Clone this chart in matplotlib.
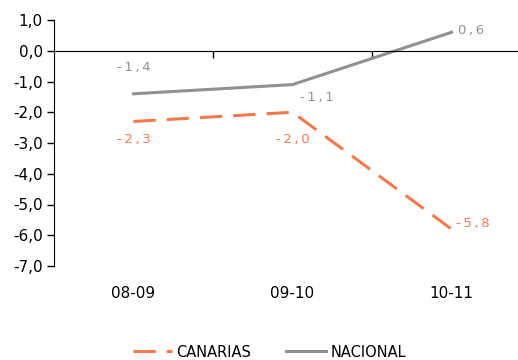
import matplotlib.pyplot as plt
from matplotlib.ticker import FuncFormatter

# data
periodos = ['08-09', '09-10', '10-11']
canarias = [-2.3, -2.0, -5.8]
nacional = [-1.4, -1.1, 0.6]

col_can = '#F4794C'
col_nac = '#8E9093'

plt.rcParams['font.family'] = ['DejaVu Sans']

fig = plt.figure(figsize=(5.18, 3.6), dpi=100)
ax = fig.add_axes([54/518, 94/360, 477/518, 246/360])

x = list(range(len(periodos)))
ax.plot(x, canarias, color=col_can, lw=2.2, dashes=(7.3, 3.6), label='CANARIAS')
ax.plot(x, nacional, color=col_nac, lw=2.2, label='NACIONAL')

ax.set_xlim(-0.5, 2.5)
ax.set_ylim(-7, 1)
ax.set_yticks(range(-7, 2))
ax.yaxis.set_major_formatter(FuncFormatter(lambda v, p: f'{v:.1f}'.replace('.', ',')))
ax.tick_params(axis='y', length=5, width=1, pad=3, labelsize=11)

ax.spines['top'].set_visible(False)
ax.spines['right'].set_visible(False)
ax.spines['bottom'].set_position(('data', 0))
ax.set_xticks([0.5, 1.5])
ax.set_xticklabels([])
ax.tick_params(axis='x', length=5, width=1, direction='out')

for i, p in enumerate(periodos):
    ax.annotate(p, (i, 0), xycoords=('data', 'axes fraction'), xytext=(0, -27),
                textcoords='offset pixels', ha='center', va='center', fontsize=11)

def fmt(v):
    return '\u2009'.join(f'{v:.1f}'.replace('.', ','))

# label offsets in pixels
off_nac = [(0, 26, 'center'), (24, -13, 'center'), (7, 2, 'left')]
off_can = [(0, -18, 'center'), (0, -27, 'center'), (5, 6, 'left')]

for i, v in enumerate(nacional):
    dx, dy, ha = off_nac[i]
    ax.annotate(fmt(v), (i, v), xytext=(dx, dy), textcoords='offset pixels',
                ha=ha, va='center', fontsize=9.5, color=col_nac)
for i, v in enumerate(canarias):
    dx, dy, ha = off_can[i]
    ax.annotate(fmt(v), (i, v), xytext=(dx, dy), textcoords='offset pixels',
                ha=ha, va='center', fontsize=9.5, color=col_can)

fig.legend(loc='center', bbox_to_anchor=(0.52, 0.022), ncol=2, frameon=False,
           fontsize=10.5, handlelength=2.7, handletextpad=0.3, columnspacing=2.4,
           borderpad=0)

fig.savefig('out.png', dpi=100)
